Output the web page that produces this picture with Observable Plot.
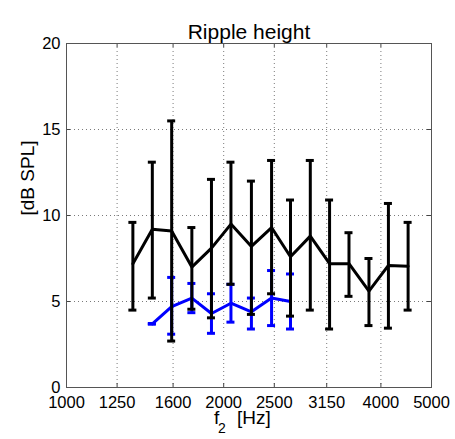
<!DOCTYPE html>
<html>
<head>
<meta charset="utf-8">
<script src="https://cdn.jsdelivr.net/npm/d3@7"></script>
<script src="https://cdn.jsdelivr.net/npm/@observablehq/plot@0.6"></script>
<style>
  html, body { margin: 0; padding: 0; background: white; }
</style>
</head>
<body>
<div id="chart"></div>
<script>
// Tick labels
const xTicks = [1000, 1250, 1600, 2000, 2500, 3150, 4000, 5000];
const yTicks = [0, 5, 10, 15, 20];

// Black series (f2 in Hz, mean, upper, lower) in dB SPL
const blackF    = [1340, 1460, 1590, 1738, 1895, 2065, 2260, 2470, 2685, 2930, 3190, 3475, 3795, 4135, 4510];
const blackMean = [7.2, 9.2, 9.1, 7.0, 8.1, 9.5, 8.2, 9.3, 7.6, 8.8, 7.2, 7.2, 5.6, 7.1, 7.05];
const blackHi   = [9.6, 13.1, 15.5, 9.3, 12.1, 13.1, 12.0, 13.2, 10.9, 13.2, 10.9, 9.0, 7.5, 10.7, 9.6];
const blackLo   = [4.5, 5.2, 2.7, 4.55, 4.05, 6.0, 4.25, 5.45, 4.15, 4.5, 3.4, 5.3, 3.6, 3.45, 4.5];

// Blue series
const blueF    = [1460, 1590, 1738, 1895, 2065, 2260, 2470, 2685];
const blueMean = [3.7, 4.7, 5.2, 4.3, 4.9, 4.4, 5.2, 5.0];
const blueHi   = [3.72, 6.4, 6.05, 5.45, 6.0, 5.2, 6.8, 6.6];
const blueLo   = [3.68, 3.1, 4.35, 3.15, 3.8, 3.4, 3.6, 3.4];

const black = blackF.map((f, i) => ({f, m: blackMean[i], hi: blackHi[i], lo: blackLo[i]}));
const blue = blueF.map((f, i) => ({f, m: blueMean[i], hi: blueHi[i], lo: blueLo[i]}));

const font = "'Liberation Sans', Arial, Helvetica, sans-serif";
const gridStyle = {stroke: "#7a7a7a", strokeOpacity: 1, strokeDasharray: "1,3", strokeWidth: 1};

function series(data, color) {
  return [
    Plot.line(data, {x: "f", y: "m", stroke: color, strokeWidth: 3}),
    Plot.ruleX(data, {x: "f", y1: "lo", y2: "hi", stroke: color, strokeWidth: 3}),
    Plot.ruleY(data, {y: "hi", x1: "f", x2: "f", insetLeft: -4, insetRight: -4, stroke: color, strokeWidth: 3}),
    Plot.ruleY(data, {y: "lo", x1: "f", x2: "f", insetLeft: -4, insetRight: -4, stroke: color, strokeWidth: 3})
  ];
}

const chart = Plot.plot({
  width: 455,
  height: 439,
  marginLeft: 66,
  marginRight: 24,
  marginTop: 43,
  marginBottom: 52,
  style: {fontFamily: font, fontSize: "16px", background: "white", color: "black"},
  x: {type: "log", domain: [1000, 5000]},
  y: {domain: [0, 20]},
  marks: [
    Plot.gridX(xTicks.slice(1, -1), gridStyle),
    Plot.gridY(yTicks.slice(1, -1), gridStyle),
    // inward tick marks
    Plot.ruleX(xTicks, {x: d => d, insetTop: 340, stroke: "#444"}),
    Plot.ruleX(xTicks, {x: d => d, insetBottom: 340, stroke: "#444"}),
    Plot.ruleY(yTicks, {y: d => d, insetRight: 361, stroke: "#444"}),
    Plot.ruleY(yTicks, {y: d => d, insetLeft: 361, stroke: "#444"}),
    Plot.axisX(xTicks, {tickSize: 0, tickPadding: 9, tickFormat: d => String(d), fontSize: 16.5, label: null}),
    Plot.axisY(yTicks, {tickSize: 0, tickPadding: 6, tickFormat: d => String(d), fontSize: 16.5, label: null}),
    Plot.frame({stroke: "#555"}),
    ...series(blue, "#0000ff"),
    ...series(black, "black"),
    Plot.text(["Ripple height"], {frameAnchor: "top", dy: -19, fontSize: 21, fill: "black"}),
    Plot.text(["[dB SPL]"], {frameAnchor: "left", dx: -39, rotate: -90, fontSize: 19, fill: "black"}),
    Plot.text(["f"], {frameAnchor: "bottom", dx: -35, dy: 36, textAnchor: "start", fontSize: 19, fill: "black"}),
    Plot.text(["2"], {frameAnchor: "bottom", dx: -31, dy: 45, textAnchor: "start", fontSize: 14, fill: "black"}),
    Plot.text(["[Hz]"], {frameAnchor: "bottom", dx: -12, dy: 36, textAnchor: "start", fontSize: 19, fill: "black"})
  ]
});
document.getElementById("chart").appendChild(chart);
</script>
</body>
</html>
